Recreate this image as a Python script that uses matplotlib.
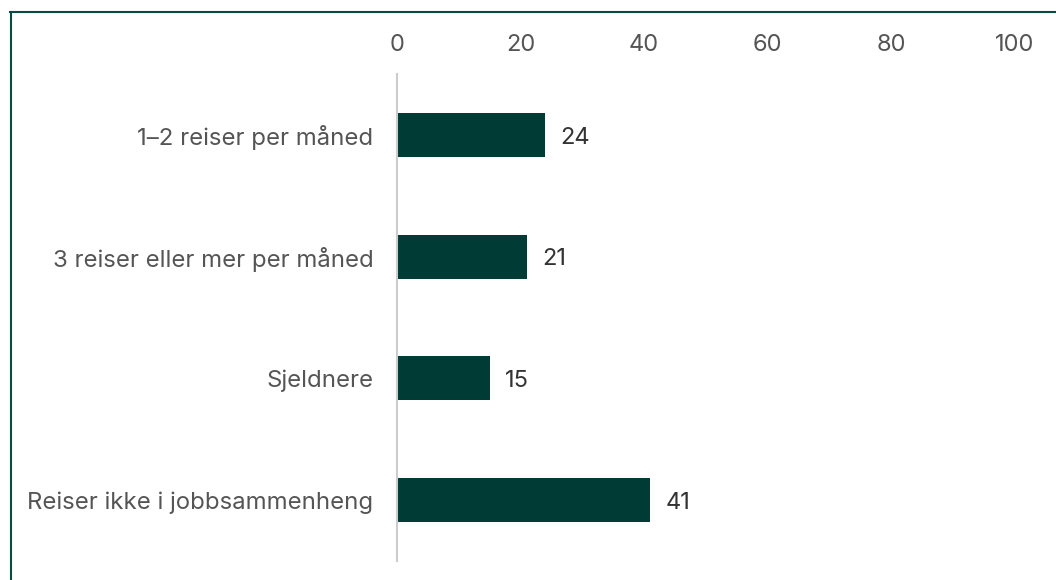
import matplotlib.pyplot as plt
from matplotlib.lines import Line2D

categories = ["1–2 reiser per måned", "3 reiser eller mer per måned",
              "Sjeldnere", "Reiser ikke i jobbsammenheng"]
values = [24, 21, 15, 41]
ticks = [0, 20, 40, 60, 80, 100]

plt.rcParams['font.family'] = ['Inter', 'DejaVu Sans']
bar_color = '#003b35'

fig = plt.figure(figsize=(10.56, 5.8), dpi=100)
ax = fig.add_axes([0.376, 0.033, 0.585, 0.839])

y = range(len(categories))
ax.barh(y, values, height=0.36, color=bar_color)
for yi, v in zip(y, values):
    ax.annotate(str(v), (v, yi), xytext=(11, 0), textcoords='offset points',
                va='center_baseline', ha='left', fontsize=17, color='#333333')

ax.set_xlim(0, 100)
ax.set_ylim(len(categories) - 0.5, -0.5)
ax.set_xticks(ticks)
ax.set_yticks(list(y))
ax.set_yticklabels(categories, va='center_baseline')
ax.xaxis.tick_top()
ax.tick_params(axis='x', length=0, pad=13, labelsize=17, labelcolor='#555555')
ax.tick_params(axis='y', length=0, pad=17, labelsize=17.25, labelcolor='#555555')
for s in ['top', 'right', 'bottom']:
    ax.spines[s].set_visible(False)
ax.spines['left'].set_color('#cccccc')
ax.spines['left'].set_linewidth(1.5)

# frame on the left and top edges
W, H = 1056, 580
fig.add_artist(Line2D([10.5 / W, 10.5 / W], [0, 1 - 12 / H], color='#0b4a40', lw=1.5))
fig.add_artist(Line2D([10 / W, 1], [1 - 12 / H, 1 - 12 / H], color='#0b4a40', lw=1.5))

fig.savefig('out.png', dpi=100)
